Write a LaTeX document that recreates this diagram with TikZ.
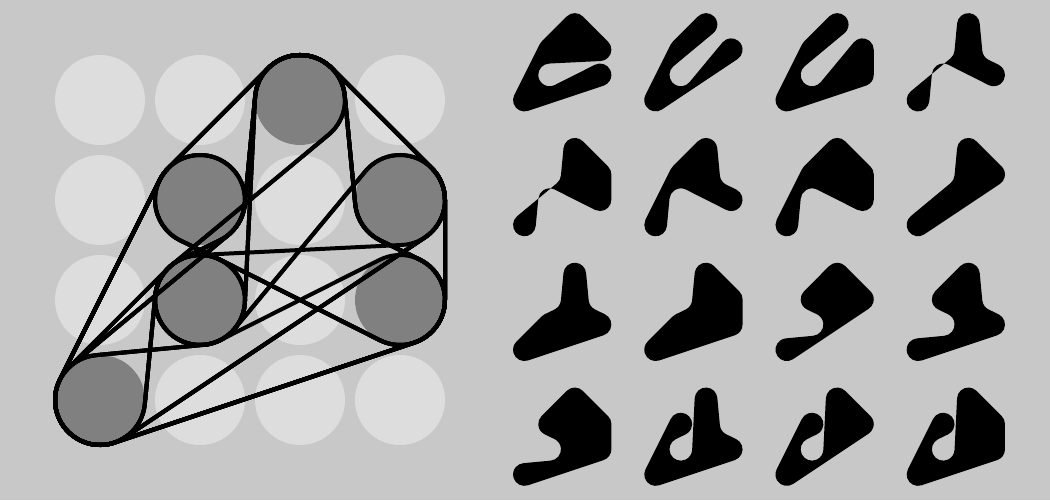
\documentclass[tikz,border=0pt]{standalone}
\usetikzlibrary{positioning}

\definecolor{bggray}{RGB}{200,200,200}
\definecolor{spotgray}{RGB}{221,221,221}
\definecolor{pulleygray}{RGB}{128,128,128}

% pulley positions in grid units, layout centre at the origin
\def\gxA{0.5}  \def\gyA{1.5}
\def\gxB{-0.5} \def\gyB{0.5}
\def\gxC{1.5}  \def\gyC{0.5}
\def\gxD{-0.5} \def\gyD{-0.5}
\def\gxE{1.5}  \def\gyE{-0.5}
\def\gxF{-1.5} \def\gyF{-1.5}

% \beltpath{cx}{cy}{grid}{radius}{pulley/turn list} -> \thebelt
\newcommand{\beltpath}[5]{%
  \pgfmathsetmacro\brcm{#4*0.02}%
  \edef\blist{#5}%
  \foreach \nm/\sg [count=\bi] in \blist {%
    \expandafter\xdef\csname bn\bi\endcsname{\nm}%
    \expandafter\xdef\csname bs\bi\endcsname{\sg}%
    \xdef\bnum{\bi}%
  }%
  % tangent points of each straight run
  \foreach \bi in {1,...,\bnum} {%
    \pgfmathtruncatemacro\bj{mod(\bi,\bnum)+1}%
    \edef\bpn{\csname bn\bi\endcsname}%
    \edef\bqn{\csname bn\bj\endcsname}%
    \edef\bps{\csname bs\bi\endcsname}%
    \edef\bqs{\csname bs\bj\endcsname}%
    \pgfmathsetmacro\bPx{#1+#3*(\csname gx\bpn\endcsname)}%
    \pgfmathsetmacro\bPy{#2+#3*(\csname gy\bpn\endcsname)}%
    \pgfmathsetmacro\bQx{#1+#3*(\csname gx\bqn\endcsname)}%
    \pgfmathsetmacro\bQy{#2+#3*(\csname gy\bqn\endcsname)}%
    \pgfmathsetmacro\blen{veclen(\bQx-\bPx,\bQy-\bPy)}%
    \pgfmathsetmacro\bux{(\bQx-\bPx)/\blen}%
    \pgfmathsetmacro\buy{(\bQy-\bPy)/\blen}%
    \ifdim\bps pt=\bqs pt\relax
      \pgfmathsetmacro\bvx{-(\bps)*(\buy)}%
      \pgfmathsetmacro\bvy{(\bps)*(\bux)}%
      \def\bk{1}%
    \else
      \pgfmathsetmacro\bcc{2*#4/\blen}%
      \pgfmathsetmacro\bsn{sqrt(1-(\bcc)*(\bcc))}%
      \pgfmathsetmacro\bvx{(\bcc)*(\bux)-(\bps)*(\bsn)*(\buy)}%
      \pgfmathsetmacro\bvy{(\bcc)*(\buy)+(\bps)*(\bsn)*(\bux)}%
      \def\bk{-1}%
    \fi
    \pgfmathsetmacro\bTx{\bPx+#4*(\bvx)}%
    \pgfmathsetmacro\bTy{\bPy+#4*(\bvy)}%
    \pgfmathsetmacro\bSx{\bQx+(\bk)*#4*(\bvx)}%
    \pgfmathsetmacro\bSy{\bQy+(\bk)*#4*(\bvy)}%
    \pgfmathsetmacro\bTa{atan2(\bvy,\bvx)}%
    \pgfmathsetmacro\bSa{atan2((\bk)*(\bvy),(\bk)*(\bvx))}%
    \expandafter\xdef\csname tx\bi\endcsname{\bTx}%
    \expandafter\xdef\csname ty\bi\endcsname{\bTy}%
    \expandafter\xdef\csname ta\bi\endcsname{\bTa}%
    \expandafter\xdef\csname sx\bj\endcsname{\bSx}%
    \expandafter\xdef\csname sy\bj\endcsname{\bSy}%
    \expandafter\xdef\csname sa\bj\endcsname{\bSa}%
  }%
  % wrap angle on each pulley
  \foreach \bi in {1,...,\bnum} {%
    \edef\bps{\csname bs\bi\endcsname}%
    \edef\ba{\csname sa\bi\endcsname}%
    \edef\bb{\csname ta\bi\endcsname}%
    \ifdim\bps pt>0pt
      \pgfmathsetmacro\bd{-Mod(\ba-(\bb),360)}%
    \else
      \pgfmathsetmacro\bd{Mod(\bb-(\ba),360)}%
    \fi
    \pgfmathsetmacro\bd{(\bd>359)?(\bd-360):((\bd<-359)?(\bd+360):(\bd))}%
    \expandafter\xdef\csname dd\bi\endcsname{\bd}%
  }%
  \xdef\thebelt{(\csname tx1\endcsname,\csname ty1\endcsname)}%
  \foreach \bi in {2,...,\bnum,1} {%
    \xdef\thebelt{\thebelt\space -- (\csname sx\bi\endcsname,\csname sy\bi\endcsname)
      arc[start angle=\csname sa\bi\endcsname, delta angle=\csname dd\bi\endcsname, radius=\brcm cm]}%
  }%
  \xdef\thebelt{\thebelt\space -- cycle}%
}

\begin{document}
\begin{tikzpicture}[
    x=0.02cm, y=0.02cm,
    spot/.style={fill=spotgray},
    pulley/.style={fill=pulleygray},
    belt/.style={draw=black, line width=0.08cm, line join=round},
    blob/.style={fill=black, even odd rule}
]

% Light background
\fill[bggray] (0,0) rectangle (1050,500);

% Grid of spots
\foreach \x in {100,200,300,400}
    \foreach \y in {100,200,300,400}
        \fill[spot] (\x,\y) circle[radius=0.9cm];

% Pulleys
\foreach \p in {A,B,C,D,E,F}
    \fill[pulley] ({250+100*\csname gx\p\endcsname},{250+100*\csname gy\p\endcsname}) circle[radius=0.9cm];

% Belts: outlines on the left, filled shapes on the right
\foreach \row/\col/\seq in {
    0/0/{F/1,B/1,A/1,C/1,D/-1,E/1},
    0/1/{F/1,B/1,A/1,D/-1,C/1},
    0/2/{F/1,B/1,A/1,D/-1,C/1,E/1},
    0/3/{F/1,B/-1,A/1,C/-1,E/1,D/-1},
    1/0/{F/1,B/-1,A/1,C/1,E/1,D/-1},
    1/1/{F/1,B/1,A/1,C/-1,E/1,D/-1},
    1/2/{F/1,B/1,A/1,C/1,E/1,D/-1},
    1/3/{F/1,B/-1,A/1,C/1},
    2/0/{F/1,D/1,B/-1,A/1,C/-1,E/1},
    2/1/{F/1,D/1,B/-1,A/1,C/1,E/1},
    2/2/{F/1,D/-1,B/1,A/1,C/1},
    2/3/{F/1,D/-1,B/1,A/1,C/-1,E/1},
    3/0/{F/1,D/-1,B/1,A/1,C/1,E/1},
    3/1/{F/1,B/1,D/-1,A/1,C/-1,E/1},
    3/2/{F/1,B/1,D/-1,A/1,C/1},
    3/3/{F/1,B/1,D/-1,A/1,C/1,E/1}} {
    \beltpath{250}{250}{100}{45}{\seq}
    \draw[belt] \thebelt;
    \beltpath{562.2+131.2*\col}{437.7-124.8*\row}{25.2}{11.35}{\seq}
    \fill[blob] \thebelt;
}

\end{tikzpicture}
\end{document}
